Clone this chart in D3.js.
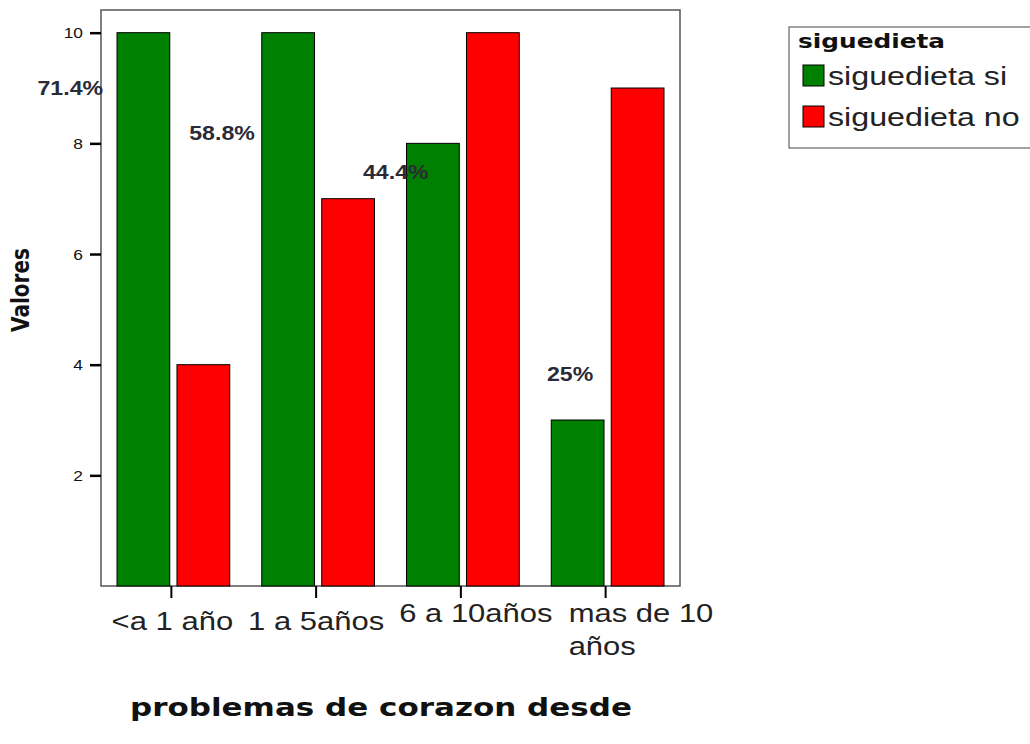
<!DOCTYPE html>
<html>
<head>
<meta charset="utf-8">
<title>problemas de corazon desde</title>
<style>
  body { margin: 0; background: #fff; }
  svg { display: block; }
</style>
</head>
<body>
<script src="https://cdn.jsdelivr.net/npm/d3@7"></script>
<script>

// data
var categories = ["<a 1 año", "1 a 5años", "6 a 10años", "mas de 10\naños"];
var seriesNames = ["siguedieta si", "siguedieta no"];
var siValues = [10, 10, 8, 3];
var noValues = [4, 7, 10, 9];
var pctLabels = ["71.4%", "58.8%", "44.4%", "25%"];
var yTicks = [2, 4, 6, 8, 10];

var colors = { "siguedieta si": "#008000", "siguedieta no": "#ff0000" };
var SX = 1.24;   // the original picture is stretched sideways

var width = 1030, height = 744;
var plot = { left: 101, right: 680, top: 10, bottom: 586 };

var svg = d3.select("body").append("svg")
    .attr("width", width)
    .attr("height", height);

var x0 = d3.scaleBand()
    .domain(categories)
    .range([plot.left, plot.right]);

var x1 = d3.scaleBand()
    .domain(seriesNames)
    .range([16, x0.bandwidth() - 16])
    .paddingInner(0.12);

var y = d3.scaleLinear()
    .domain([0, 10.41])
    .range([plot.bottom, plot.top]);

// frame
svg.append("rect")
    .attr("x", plot.left)
    .attr("y", plot.top)
    .attr("width", plot.right - plot.left)
    .attr("height", plot.bottom - plot.top)
    .attr("fill", "#fff")
    .attr("stroke", "#555")
    .attr("stroke-width", 1.5);

// bars
var rows = categories.map(function(c, i) {
  return { cat: c, values: [
    { key: seriesNames[0], v: siValues[i] },
    { key: seriesNames[1], v: noValues[i] }
  ]};
});

var groups = svg.append("g").selectAll("g")
    .data(rows)
  .enter().append("g")
    .attr("transform", function(d) { return "translate(" + x0(d.cat) + ",0)"; });

groups.selectAll("rect")
    .data(function(d) { return d.values; })
  .enter().append("rect")
    .attr("x", function(d) { return x1(d.key); })
    .attr("y", function(d) { return y(d.v); })
    .attr("width", x1.bandwidth())
    .attr("height", function(d) { return y(0) - y(d.v); })
    .attr("fill", function(d) { return colors[d.key]; })
    .attr("stroke", "#000")
    .attr("stroke-width", 1);

// y axis
var yAxis = svg.append("g")
    .attr("transform", "translate(" + plot.left + ",0)")
    .call(d3.axisLeft(y).tickValues(yTicks).tickSize(11).tickFormat(d3.format("d")));
yAxis.select(".domain").remove();
yAxis.selectAll("line").attr("stroke", "#000").attr("stroke-width", 2.5);
yAxis.selectAll("text")
    .attr("x", null).attr("dy", null)
    .attr("transform", "translate(-18,5) scale(" + SX + ",1)")
    .style("text-anchor", "end")
    .style("font-family", "'Liberation Sans', Arial, sans-serif")
    .style("font-size", "14px")
    .attr("fill", "#111");

// x axis, ticks sit a little left of the group centre
var xAxis = svg.append("g")
    .attr("transform", "translate(-2," + plot.bottom + ")")
    .call(d3.axisBottom(x0).tickSize(12).tickFormat(""));
xAxis.select(".domain").remove();
xAxis.selectAll("line").attr("stroke", "#000").attr("stroke-width", 2);

// x tick labels (placement follows the original)
var labelPlace = [
  { dx: 1, y: 630, anchor: "middle" },
  { dx: 0, y: 630, anchor: "middle" },
  { dx: 15, y: 622, anchor: "middle" },
  { dx: -37, y: 622, anchor: "start" }
];
categories.forEach(function(c, i) {
  var p = labelPlace[i];
  var cx = x0(c) + x0.bandwidth() / 2 - 2 + p.dx;
  var t = svg.append("text")
      .attr("transform", "translate(" + cx + "," + p.y + ") scale(" + SX + ",1)")
      .style("text-anchor", p.anchor)
      .style("font-family", "'Liberation Sans', Arial, sans-serif")
      .style("font-size", "25px")
      .attr("fill", "#222");
  c.split("\n").forEach(function(line, j) {
    t.append("tspan").attr("x", 0).attr("dy", j ? 33 : 0).text(line);
  });
});

// percentage labels for the "si" share
var pctPlace = [
  { dx: -14, v: 9.0 },
  { dx: -7, v: 8.19 },
  { dx: 22, v: 7.49 },
  { dx: 42, v: 3.83 }
];
pctLabels.forEach(function(s, i) {
  var gx = x0(categories[i]) + x1(seriesNames[0]) + pctPlace[i].dx;
  svg.append("text")
      .attr("transform", "translate(" + gx + "," + (y(pctPlace[i].v) + 7) + ") scale(1.1,1)")
      .style("text-anchor", "end")
      .style("font-family", "'Liberation Sans', Arial, sans-serif")
      .style("font-weight", "bold")
      .style("font-size", "21px")
      .attr("fill", "#2b2b38")
      .text(s);
});

// axis titles
svg.append("text")
    .attr("transform", "translate(29," + 290 + ") scale(" + SX + ",1) rotate(-90)")
    .style("text-anchor", "middle")
    .style("font-family", "'DejaVu Sans', Verdana, sans-serif")
    .style("font-weight", "bold")
    .style("font-size", "20px")
    .attr("fill", "#111")
    .text("Valores");

svg.append("text")
    .attr("transform", "translate(381,716) scale(" + SX + ",1)")
    .style("text-anchor", "middle")
    .style("font-family", "'DejaVu Sans', Verdana, sans-serif")
    .style("font-weight", "bold")
    .style("font-size", "25px")
    .attr("fill", "#111")
    .text("problemas de corazon desde");

// legend
var legend = svg.append("g").attr("transform", "translate(789,27)");
legend.append("rect")
    .attr("width", 300)
    .attr("height", 121)
    .attr("fill", "#fff")
    .attr("stroke", "#444")
    .attr("stroke-width", 1);
legend.append("text")
    .attr("transform", "translate(9,21) scale(" + SX + ",1)")
    .style("font-family", "'DejaVu Sans', Verdana, sans-serif")
    .style("font-weight", "bold")
    .style("font-size", "20px")
    .attr("fill", "#111")
    .text("siguedieta");

var items = legend.selectAll("g.item")
    .data(seriesNames)
  .enter().append("g")
    .attr("class", "item")
    .attr("transform", function(d, i) { return "translate(14," + (38 + i * 41) + ")"; });
items.append("rect")
    .attr("width", 21)
    .attr("height", 21)
    .attr("fill", function(d) { return colors[d]; })
    .attr("stroke", "#000");
items.append("text")
    .attr("transform", "translate(25,20) scale(" + SX + ",1)")
    .style("font-family", "'Liberation Sans', Arial, sans-serif")
    .style("font-size", "26px")
    .attr("fill", "#222")
    .text(function(d) { return d; });

</script>
</body>
</html>
